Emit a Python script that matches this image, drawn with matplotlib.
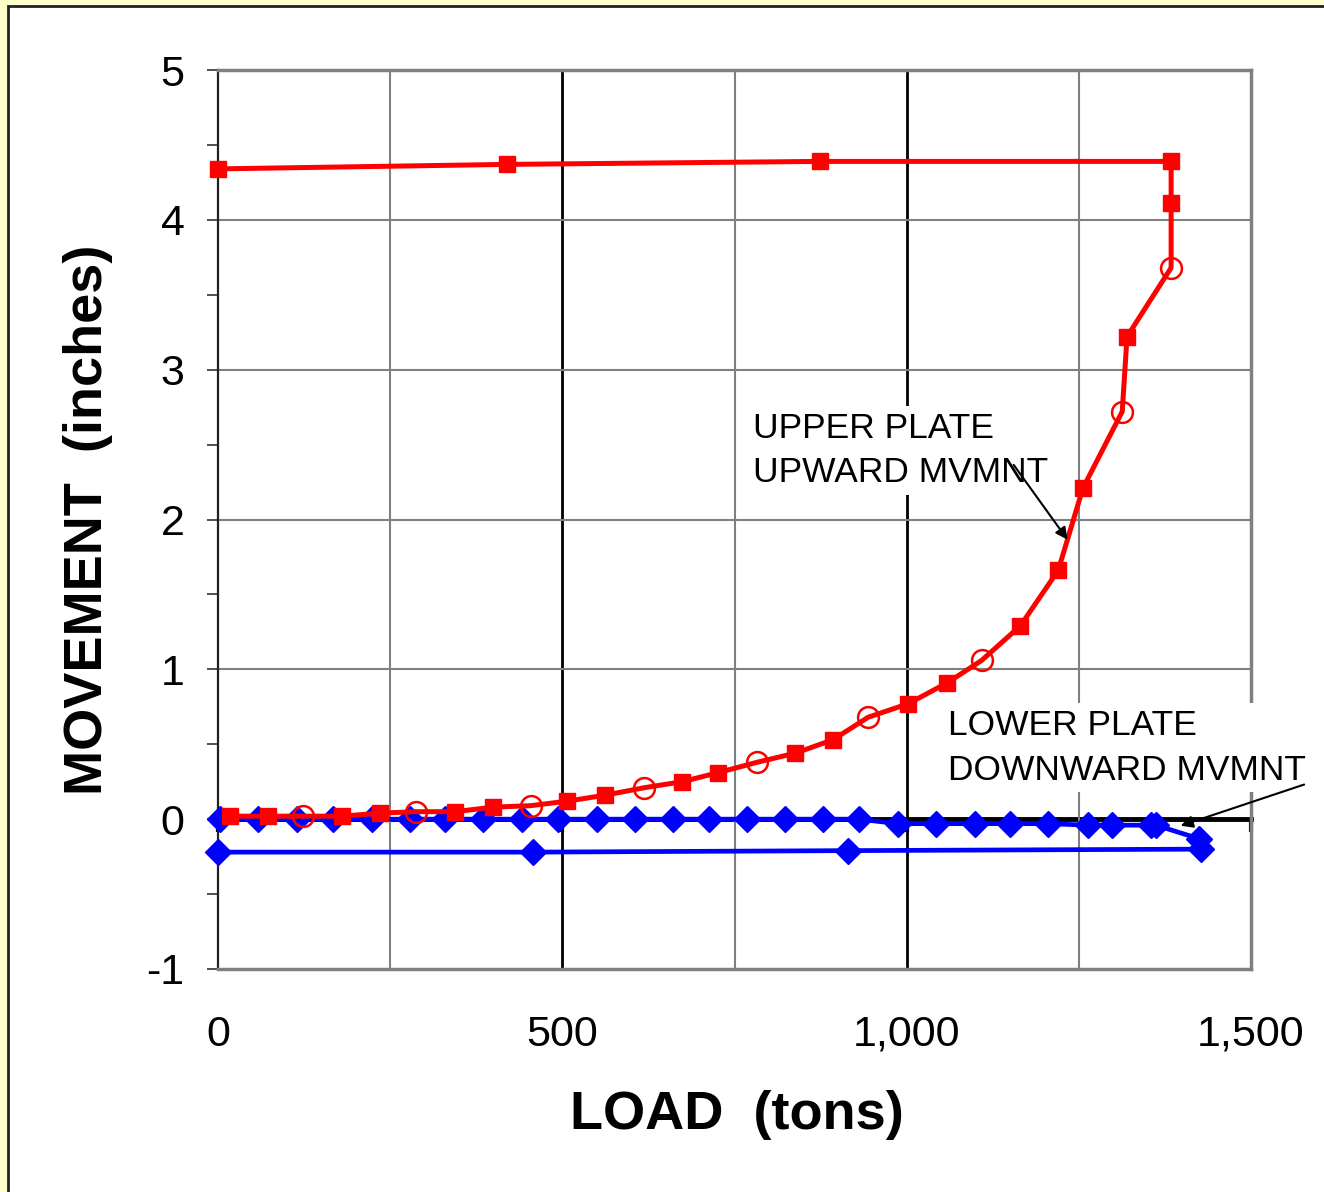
import numpy as np
import matplotlib
matplotlib.use("Agg")
import matplotlib.pyplot as plt
from matplotlib.patches import Rectangle

plt.rcParams['font.family'] = ['Liberation Sans', 'DejaVu Sans']

# upper plate (red) - full reading sequence, loading then unloading
upper_load = [17, 73, 123, 180, 235, 287, 344, 399, 454, 507, 562, 619, 674, 726, 783, 838,
              893, 944, 1002, 1059, 1109, 1165, 1220, 1256, 1313, 1320, 1384, 1384, 1384,
              874, 420, 0]
upper_mvmt = [0.02, 0.02, 0.02, 0.02, 0.04, 0.05, 0.05, 0.08, 0.09, 0.12, 0.16, 0.21, 0.25,
              0.31, 0.38, 0.44, 0.53, 0.68, 0.77, 0.91, 1.06, 1.29, 1.66, 2.21, 2.72, 3.22,
              3.68, 4.11, 4.39, 4.39, 4.37, 4.34]
# readings shown with open circles
open_readings = [2, 5, 8, 11, 14, 17, 20, 24, 26]

# lower plate (blue)
lower_load = [3, 58, 115, 167, 224, 279, 330, 385, 441, 494, 550, 605, 661, 713, 768, 823,
              878, 931, 987, 1043, 1099, 1150, 1205, 1263, 1298, 1355, 1362, 1424, 1427,
              915, 457, 0]
lower_mvmt = [0, 0, 0, 0, 0, 0, 0, 0, 0, 0, 0, 0, 0, 0, 0, 0,
              0, 0, -0.03, -0.03, -0.03, -0.03, -0.03, -0.04, -0.04, -0.04, -0.04, -0.13, -0.20,
              -0.21, -0.22, -0.22]

x_ticks = [0, 500, 1000, 1500]
x_labels = ["0", "500", "1,000", "1,500"]

fig = plt.figure(figsize=(13.24, 11.92), dpi=100)
fig.patch.set_facecolor('#FFFFCC')
fig.patches.append(Rectangle((8 / 1324, -0.05), 1.1, 1 - 6 / 1192 + 0.05, transform=fig.transFigure,
                             facecolor='white', edgecolor='#222222', lw=2, zorder=-5))

ax = fig.add_axes([218 / 1324, 1 - 969 / 1192, (1251 - 218) / 1324, (969 - 70) / 1192])
ax.set_zorder(2)
ax.set_xlim(0, 1500)
ax.set_ylim(-1, 5)

# grid
for x in [250, 750, 1250]:
    ax.axvline(x, color='#808080', lw=1.5, zorder=1)
for x in [500, 1000]:
    ax.axvline(x, color='black', lw=2, zorder=1)
for y in [1, 2, 3, 4]:
    ax.axhline(y, color='#808080', lw=1.5, zorder=1)

for s in ['top', 'right', 'bottom']:
    ax.spines[s].set_color('#808080')
    ax.spines[s].set_linewidth(2.5)
ax.spines['left'].set_color('#222222')
ax.spines['left'].set_linewidth(1.6)

ax.set_yticks(range(-1, 6))
ax.set_yticks(np.arange(-1, 5.01, 0.5), minor=True)
ax.tick_params(axis='y', which='both', direction='out', length=8, width=1.2, color='#333333',
               labelsize=31, pad=16)
ax.tick_params(axis='y', which='minor', labelleft=False)
ax.set_yticklabels(["-1", "0", "1", "2", "3", "4", "5"])
ax.set_xticks(x_ticks)
ax.set_xticklabels(x_labels)
ax.tick_params(axis='x', length=0, labelsize=31, pad=33)

# x axis line crossing at zero
sec = ax.secondary_xaxis(1 / 6)
sec.set_xticks(x_ticks)
sec.set_xticklabels([])
sec.tick_params(direction='out', length=9, width=3, color='black')
sec.spines['bottom'].set_linewidth(3.5)
sec.spines['bottom'].set_color('black')

# data
ax.plot(lower_load, lower_mvmt, color='#0000FF', lw=3.4, marker='D', ms=13.5,
        mec='#0000FF', mfc='#0000FF', zorder=4, clip_on=False)
ax.plot(upper_load, upper_mvmt, color='#FF0000', lw=3.6, zorder=5, clip_on=False)
sq = [i for i in range(len(upper_load)) if i not in open_readings]
ax.plot([upper_load[i] for i in sq], [upper_mvmt[i] for i in sq], ls='none', marker='s', ms=11,
        color='#FF0000', zorder=6, clip_on=False)
ax.plot([upper_load[i] for i in open_readings], [upper_mvmt[i] for i in open_readings], ls='none',
        marker='o', ms=15, mfc='none', mec='#FF0000', mew=1.8, zorder=6, clip_on=False)

# annotations
ax.text(777, 2.72, "UPPER PLATE\nUPWARD MVMNT", fontsize=25.5, ha='left', va='top',
        linespacing=1.45, zorder=3,
        bbox=dict(facecolor='white', edgecolor='none', pad=4))
ax.annotate('', xy=(1236, 1.85), xytext=(1153, 2.38),
            arrowprops=dict(arrowstyle='-|>', color='black', lw=1.5, mutation_scale=18),
            zorder=7)
ax.text(1060, 0.735, "LOWER PLATE\nDOWNWARD MVMNT", fontsize=25.5, ha='left', va='top',
        linespacing=1.45, zorder=3,
        bbox=dict(facecolor='white', edgecolor='none', pad=4))
ax.annotate('', xy=(1394, -0.05), xytext=(1581, 0.237),
            arrowprops=dict(arrowstyle='-|>', color='black', lw=1.5, mutation_scale=18),
            annotation_clip=False, zorder=7)

fig.text(88 / 1324, 1 - 520 / 1192, "MOVEMENT  (inches)", rotation=90, ha='center', va='center',
         fontsize=39, fontweight='bold')
fig.text(737 / 1324, 1 - 1115 / 1192, "LOAD  (tons)", ha='center', va='center',
         fontsize=39, fontweight='bold')

fig.savefig("out.png", dpi=100, facecolor=fig.get_facecolor())
